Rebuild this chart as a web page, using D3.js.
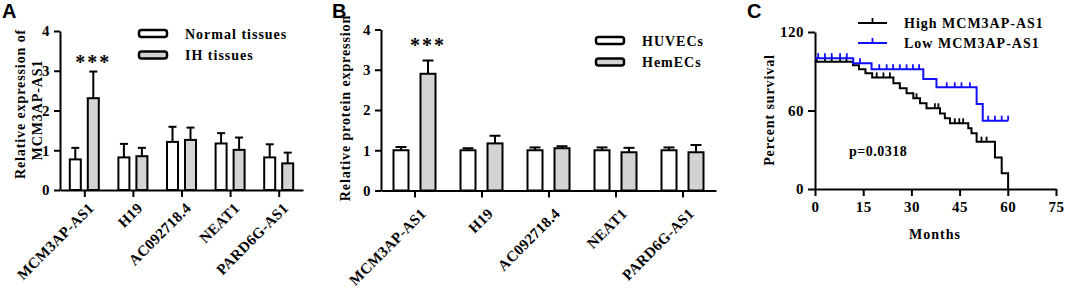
<!DOCTYPE html>
<html>
<head>
<meta charset="utf-8">
<script src="https://cdn.jsdelivr.net/npm/d3@7"></script>
<style>
  body { margin: 0; background: #fff; }
  svg { display: block; }
  text { font-family: "Liberation Serif", "Times New Roman", serif; font-weight: bold; fill: #000; }
  .letter { font-family: "Liberation Sans", Arial, sans-serif; font-size: 20px; }
  .axis path, .axis line { stroke: #000; stroke-width: 2; }
  .axis text { font-size: 15px; letter-spacing: 0.5px; }
</style>
</head>
<body>
<svg id="chart" width="1065" height="289"></svg>
<script>
// panel A - qPCR in tissues
var genes = ["MCM3AP-AS1", "H19", "AC092718.4", "NEAT1", "PARD6G-AS1"];
var normalMean = [0.77, 0.82, 1.21, 1.17, 0.82];
var normalErr = [0.29, 0.34, 0.38, 0.26, 0.33];
var ihMean = [2.31, 0.85, 1.26, 1.01, 0.67];
var ihErr = [0.67, 0.21, 0.31, 0.31, 0.27];

// panel B - cells
var huvecMean = [1.0, 1.0, 1.0, 1.0, 1.0];
var huvecErr = [0.08, 0.05, 0.07, 0.07, 0.07];
var hemMean = [2.9, 1.17, 1.05, 0.95, 0.95];
var hemErr = [0.33, 0.19, 0.05, 0.11, 0.18];

var barTicks = [0, 1, 2, 3, 4];

// panel C - survival (months, percent)
var highTimes = [0, 0.5, 11.8, 13.7, 15.7, 17.8, 24.4, 26.4, 28.5, 30.6, 32.7, 34.7, 38.9, 40.4, 42.0, 47.7, 48.7, 50.3, 56.0, 58.1, 60.1];
var highSurv = [100, 97.3, 94.5, 91.5, 88.5, 85.3, 80.8, 77.0, 73.1, 69.3, 65.5, 61.7, 57.8, 54.0, 50.2, 46.4, 42.6, 36.2, 24.0, 12.0, 0];
var highCensor = [3.1, 5.2, 7.8, 9.8, 19.2, 21.3, 23.3, 31.6, 37.3, 38.4, 43.5, 44.9, 46.1, 51.8, 53.4];
var lowTimes = [0, 11.9, 17.6, 33.7, 37.8, 50.3, 52.2, 60.1];
var lowSurv = [100, 96.1, 91.5, 84.1, 77.7, 65.0, 52.2, 52.2];
var lowCensor = [1.0, 3.1, 5.2, 7.8, 9.9, 14.0, 20.0, 22.3, 24.3, 26.4, 28.5, 30.5, 32.4, 41.0, 43.5, 45.6, 48.2, 53.9, 56.0, 58.1, 60.1];
var monthTicks = [0, 15, 30, 45, 60, 75];
var survTicks = [0, 60, 120];

var svg = d3.select("#chart");
var grey = "#d3d3d3";

function barPanel(opt) {
    var g = svg.append("g");
    var x = d3.scalePoint().domain(genes).range(opt.xr).padding(0.5);
    var y = d3.scaleLinear().domain([0, 4]).range(opt.yr);

    g.append("g").attr("class", "axis")
        .attr("transform", "translate(" + opt.xr[0] + ",0)")
        .call(d3.axisLeft(y).tickValues(barTicks).tickFormat(d3.format("d"))
            .tickSize(6).tickSizeOuter(0).tickPadding(4));
    var xa = g.append("g").attr("class", "axis")
        .attr("transform", "translate(0," + opt.yr[0] + ")")
        .call(d3.axisBottom(x).tickSize(7).tickSizeOuter(0));
    xa.selectAll("text").remove();
    xa.selectAll(".tick").append("text")
        .attr("transform", "translate(" + opt.lab[0] + "," + opt.lab[1] + ") rotate(-45)")
        .attr("text-anchor", "end")
        .style("font-size", "15px").style("letter-spacing", "0.3px")
        .text(function(d) { return d; });

    var series = [
        {mean: opt.m1, err: opt.e1, fill: "#fff", dx: -opt.off},
        {mean: opt.m2, err: opt.e2, fill: grey, dx: opt.off}
    ];
    series.forEach(function(s) {
        var data = genes.map(function(k, i) { return {k: k, m: s.mean[i], e: s.err[i]}; });
        // error bars, upper only
        g.selectAll(null).data(data).enter().append("line")
            .attr("x1", function(d) { return x(d.k) + s.dx; })
            .attr("x2", function(d) { return x(d.k) + s.dx; })
            .attr("y1", function(d) { return y(d.m); })
            .attr("y2", function(d) { return y(d.m + d.e); })
            .attr("stroke", "#000").attr("stroke-width", 2);
        g.selectAll(null).data(data).enter().append("line")
            .attr("x1", function(d) { return x(d.k) + s.dx - opt.cap / 2; })
            .attr("x2", function(d) { return x(d.k) + s.dx + opt.cap / 2; })
            .attr("y1", function(d) { return y(d.m + d.e); })
            .attr("y2", function(d) { return y(d.m + d.e); })
            .attr("stroke", "#000").attr("stroke-width", 2);
        g.selectAll(null).data(data).enter().append("rect")
            .attr("x", function(d) { return x(d.k) + s.dx - opt.bw / 2; })
            .attr("y", function(d) { return y(d.m); })
            .attr("width", opt.bw)
            .attr("height", function(d) { return y(0) - y(d.m); })
            .attr("fill", s.fill).attr("stroke", "#000").attr("stroke-width", 2);
    });

    // significance
    g.append("text")
        .attr("x", x(genes[0]) + opt.off).attr("y", opt.starY)
        .attr("text-anchor", "middle").style("font-size", "20px").style("letter-spacing", "2px")
        .text("***");

    // legend
    [opt.l1, opt.l2].forEach(function(t, i) {
        g.append("rect")
            .attr("x", opt.lx).attr("y", opt.ly + i * 21.5)
            .attr("width", 28).attr("height", 7).attr("rx", 2.5)
            .attr("fill", i == 0 ? "#fff" : grey).attr("stroke", "#000").attr("stroke-width", 2.5);
        g.append("text")
            .attr("x", opt.lx + 46).attr("y", opt.ly + 8.5 + i * 21.5)
            .style("font-size", "14px").style("letter-spacing", "1px")
            .text(t);
    });
    return g;
}

// ---- A
var gA = barPanel({xr: [60, 303], yr: [190, 31], bw: 11, off: 9, cap: 8, lab: [10, 19],
    m1: normalMean, e1: normalErr, m2: ihMean, e2: ihErr,
    starY: 69, l1: "Normal tissues", l2: "IH tissues", lx: 139, ly: 30});
svg.append("text").attr("class", "letter").attr("x", 2).attr("y", 18).text("A");
svg.append("text")
    .attr("transform", "translate(25,104) rotate(-90)")
    .attr("text-anchor", "middle").style("font-size", "14px").style("letter-spacing", "0.9px")
    .text("Relative expression of");
svg.append("text")
    .attr("transform", "translate(41.5,110) rotate(-90)")
    .attr("text-anchor", "middle").style("font-size", "14px").style("letter-spacing", "0.9px")
    .text("MCM3AP-AS1");

// ---- B
var gB = barPanel({xr: [381, 716], yr: [190.5, 29.5], bw: 15, off: 13.5, cap: 11, lab: [12, 24],
    m1: huvecMean, e1: huvecErr, m2: hemMean, e2: hemErr,
    starY: 52, l1: "HUVECs", l2: "HemECs", lx: 596, ly: 37});
svg.append("text").attr("class", "letter").attr("x", 332).attr("y", 18).text("B");
svg.append("text")
    .attr("transform", "translate(350,108) rotate(-90)")
    .attr("text-anchor", "middle").style("font-size", "14px").style("letter-spacing", "0.9px")
    .text("Relative protein expression");

// ---- C
var gC = svg.append("g");
var xs = d3.scaleLinear().domain([0, 75]).range([815, 1056]);
var ys = d3.scaleLinear().domain([0, 120]).range([189, 32]);
gC.append("g").attr("class", "axis")
    .attr("transform", "translate(815,0)")
    .call(d3.axisLeft(ys).tickValues(survTicks).tickSize(7).tickSizeOuter(0).tickPadding(4));
gC.append("g").attr("class", "axis")
    .attr("transform", "translate(0,189)")
    .call(d3.axisBottom(xs).tickValues(monthTicks).tickSize(7).tickSizeOuter(0).tickPadding(5));

function survAt(times, surv, t) {
    var v = surv[0];
    for (var i = 0; i < times.length; i++) { if (times[i] <= t) v = surv[i]; }
    return v;
}
var stepLine = d3.line()
    .x(function(d) { return xs(d[0]); })
    .y(function(d) { return ys(d[1]); })
    .curve(d3.curveStepAfter);

function drawCurve(times, surv, censor, color) {
    var pts = times.map(function(t, i) { return [t, surv[i]]; });
    gC.append("path").attr("d", stepLine(pts))
        .attr("fill", "none").attr("stroke", color).attr("stroke-width", 2);
    gC.selectAll(null).data(censor).enter().append("line")
        .attr("x1", function(d) { return xs(d); })
        .attr("x2", function(d) { return xs(d); })
        .attr("y1", function(d) { return ys(survAt(times, surv, d)); })
        .attr("y2", function(d) { return ys(survAt(times, surv, d)) - 5; })
        .attr("stroke", color).attr("stroke-width", 1.8);
}
drawCurve(highTimes, highSurv, highCensor, "#000");
drawCurve(lowTimes, lowSurv, lowCensor, "#1010ff");

// legend C
[["High MCM3AP-AS1", "#000"], ["Low MCM3AP-AS1", "#1010ff"]].forEach(function(l, i) {
    var ly = 23 + i * 20;
    gC.append("line").attr("x1", 858).attr("x2", 887).attr("y1", ly).attr("y2", ly)
        .attr("stroke", l[1]).attr("stroke-width", 2);
    gC.append("line").attr("x1", 872.5).attr("x2", 872.5).attr("y1", ly).attr("y2", ly - 5)
        .attr("stroke", l[1]).attr("stroke-width", 1.8);
    gC.append("text").attr("x", 904).attr("y", ly + 4.5)
        .style("font-size", "14px").style("letter-spacing", "1px").text(l[0]);
});
gC.append("text").attr("x", 849).attr("y", 156).style("font-size", "14px").style("letter-spacing", "0.5px").text("p=0.0318");
gC.append("text").attr("x", 935).attr("y", 239).attr("text-anchor", "middle")
    .style("font-size", "14px").style("letter-spacing", "1px").text("Months");
gC.append("text")
    .attr("transform", "translate(774,110) rotate(-90)")
    .attr("text-anchor", "middle").style("font-size", "14px").style("letter-spacing", "0.9px")
    .text("Percent survival");
svg.append("text").attr("class", "letter").attr("x", 747).attr("y", 18).text("C");
</script>
</body>
</html>
